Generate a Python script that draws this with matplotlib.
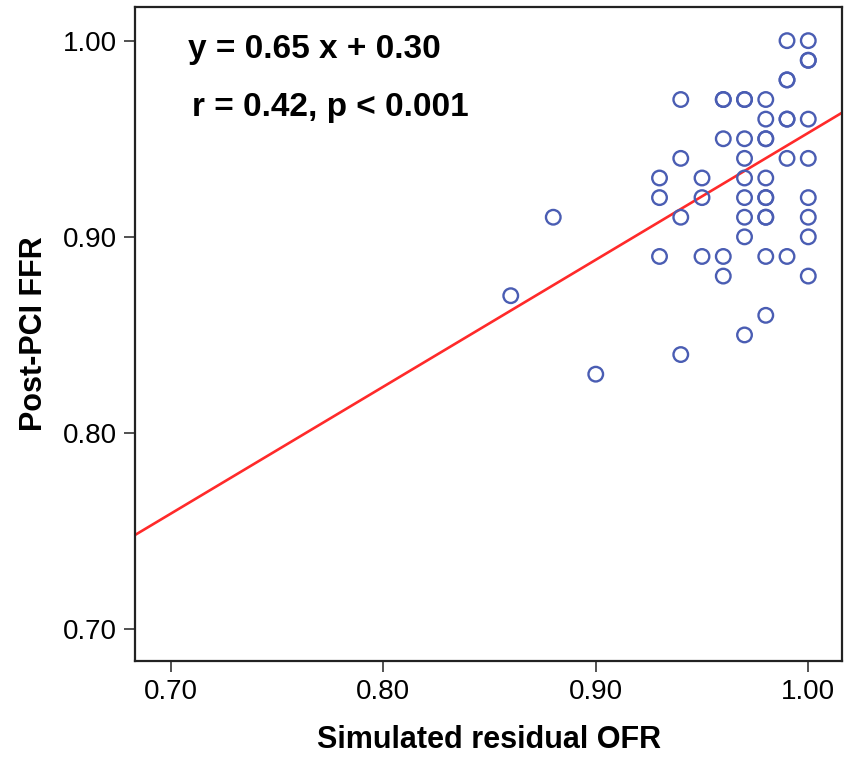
import numpy as np
import matplotlib.pyplot as plt

plt.rcParams['font.family'] = ['Liberation Sans', 'DejaVu Sans']

# simulated residual OFR (x) and post-PCI FFR (y)
ofr = [0.86, 0.88, 0.90,
       0.93, 0.93, 0.93,
       0.94, 0.94, 0.94, 0.94,
       0.95, 0.95, 0.95,
       0.96, 0.96, 0.96, 0.96, 0.96,
       0.97, 0.97, 0.97, 0.97, 0.97, 0.97, 0.97, 0.97, 0.97,
       0.98, 0.98, 0.98, 0.98, 0.98, 0.98, 0.98, 0.98, 0.98, 0.98, 0.98,
       0.99, 0.99, 0.99, 0.99, 0.99, 0.99, 0.99,
       1.00, 1.00, 1.00, 1.00, 1.00, 1.00, 1.00, 1.00, 1.00]
ffr = [0.87, 0.91, 0.83,
       0.93, 0.92, 0.89,
       0.97, 0.94, 0.91, 0.84,
       0.93, 0.92, 0.89,
       0.97, 0.97, 0.95, 0.89, 0.88,
       0.97, 0.97, 0.95, 0.94, 0.93, 0.92, 0.91, 0.90, 0.85,
       0.97, 0.96, 0.95, 0.95, 0.93, 0.92, 0.92, 0.91, 0.91, 0.89, 0.86,
       1.00, 0.98, 0.98, 0.96, 0.96, 0.94, 0.89,
       1.00, 0.99, 0.99, 0.96, 0.94, 0.92, 0.91, 0.90, 0.88]

# fit line as drawn
slope = 0.647
intercept = 0.306
eq_text = "y = 0.65 x + 0.30"
stat_text = "r = 0.42, p < 0.001"

x_ticks = [0.70, 0.80, 0.90, 1.00]
y_ticks = [0.70, 0.80, 0.90, 1.00]
x_lim = (0.6832, 1.016)
y_lim = (0.6838, 1.017)

fig = plt.figure(figsize=(8.46, 7.61), dpi=100)
ax = fig.add_axes([0.1596, 0.1314, 0.8360, 0.8590])

ax.scatter(ofr, ffr, s=110, facecolors='none', edgecolors='#4a5db3',
           linewidths=1.7, zorder=3)

xs = np.array(x_lim)
ax.plot(xs, slope * xs + intercept, color='#ff2a2a', lw=1.9, zorder=2)

ax.text(0.708, 0.9912, eq_text, fontsize=24, fontweight='bold', va='baseline')
ax.text(0.710, 0.9614, stat_text, fontsize=24, fontweight='bold', va='baseline')

ax.set_xlim(*x_lim)
ax.set_ylim(*y_lim)
ax.set_xticks(x_ticks)
ax.set_yticks(y_ticks)
ax.set_xticklabels([f"{t:.2f}" for t in x_ticks])
ax.set_yticklabels([f"{t:.2f}" for t in y_ticks])
ax.tick_params(labelsize=20, length=8, width=1.2, pad=5, color='#333333')

for sp in ax.spines.values():
    sp.set_linewidth(1.6)
    sp.set_color('#222222')

ax.set_xlabel("Simulated residual OFR", fontsize=22, fontweight='bold', labelpad=14)
ax.set_ylabel("Post-PCI FFR", fontsize=22, fontweight='bold', labelpad=10)

fig.savefig("out.png", dpi=100)
